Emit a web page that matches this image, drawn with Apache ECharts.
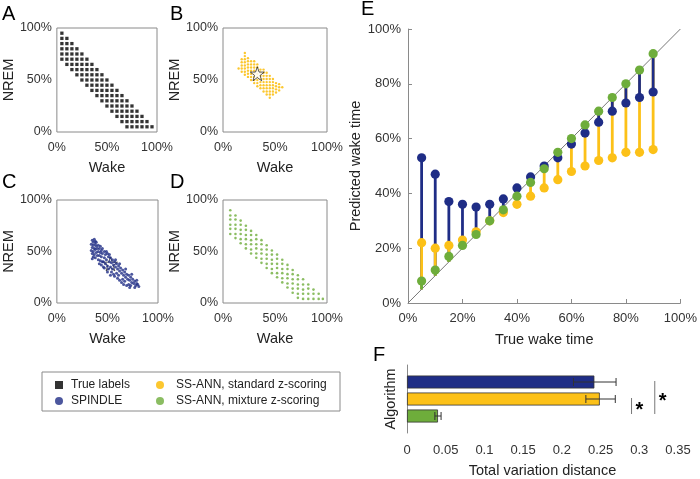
<!DOCTYPE html>
<html>
<head>
<meta charset="utf-8">
<script src="https://cdn.jsdelivr.net/npm/echarts@6.0.0/dist/echarts.min.js"></script>
<style>
  html, body { margin: 0; padding: 0; background: #fff; }
  #chart { width: 700px; height: 479px; }
</style>
</head>
<body>
<div id="chart"></div>
<script>
// panel A: true label compositions, one entry per Wake column: [wake, NREM values]
const trueLabelCols = [
  [5, [70, 75, 80, 85, 90, 95]],
  [10, [65, 70, 75, 80, 85, 90]],
  [15, [60, 65, 70, 75, 80, 85]],
  [20, [55, 60, 65, 70, 75, 80]],
  [25, [50, 55, 60, 65, 70, 75]],
  [30, [45, 50, 55, 60, 65, 70]],
  [35, [40, 45, 50, 55, 60, 65]],
  [40, [35, 40, 45, 50, 55, 60]],
  [45, [30, 35, 40, 45, 50, 55]],
  [50, [25, 30, 35, 40, 45, 50]],
  [55, [20, 25, 30, 35, 40, 45]],
  [60, [15, 20, 25, 30, 35, 40]],
  [65, [10, 15, 20, 25, 30, 35]],
  [70, [5, 10, 15, 20, 25, 30]],
  [75, [5, 10, 15, 20, 25]],
  [80, [5, 10, 15, 20]],
  [85, [5, 10, 15]],
  [90, [5, 10]],
  [95, [5]]
];

// panel B: SS-ANN standard z-scoring predictions
const standardCols = [
  [15, [61]],
  [18, [58, 61, 64, 67, 70]],
  [21, [55, 58, 61, 64, 67, 70, 73, 76]],
  [24, [53, 56, 59, 62, 65, 68, 71]],
  [27, [50, 53, 56, 59, 62, 65, 68]],
  [30, [47, 50, 53, 56, 59, 62, 65, 68]],
  [33, [44, 47, 50, 53, 56, 59, 62, 65]],
  [36, [42, 45, 48, 51, 54, 57, 60]],
  [39, [39, 42, 45, 48, 51, 54, 57, 60]],
  [42, [36, 39, 42, 45, 48, 51, 54, 57]],
  [45, [33, 36, 39, 42, 45, 48, 51, 54]],
  [48, [36, 39, 42, 45, 48, 51]],
  [51, [38, 41, 44, 47]],
  [54, [40, 43, 46]],
  [57, [43]]
];
const standardStar = [33, 56];

// panel C: SPINDLE predictions
const spindlePts = [
  [35, 61], [37, 62], [36, 59], [38, 60], [34, 57], [36, 56], [38, 57], [39, 59], [35, 54], [37, 53],
  [39, 55], [34, 51], [36, 50], [38, 52], [40, 53], [35, 48], [37, 47], [39, 49], [36, 45], [38, 44],
  [40, 46], [35, 43], [41, 56], [42, 53], [43, 55], [41, 50], [43, 49], [44, 51], [42, 46], [44, 45],
  [45, 48], [41, 42], [43, 41], [45, 40], [42, 38], [44, 37], [47, 50], [48, 47], [50, 48], [47, 44],
  [49, 42], [51, 45], [46, 40], [48, 38], [50, 36], [52, 40], [47, 34], [51, 33], [53, 44], [55, 42],
  [54, 39], [56, 37], [53, 35], [57, 40], [55, 33], [58, 35], [54, 30], [56, 28], [53, 27], [59, 38],
  [61, 36], [60, 33], [62, 31], [59, 29], [63, 34], [61, 27], [64, 29], [60, 24], [62, 22], [65, 32],
  [67, 30], [66, 27], [68, 25], [65, 23], [69, 28], [67, 21], [70, 23], [66, 18], [71, 27], [73, 25],
  [72, 22], [74, 20], [71, 18], [75, 23], [73, 17], [76, 19], [72, 15], [77, 21], [79, 19], [78, 17],
  [80, 18], [77, 15], [81, 16], [45, 53], [49, 50], [46, 35], [52, 47], [50, 30], [58, 42], [57, 26],
  [62, 38], [64, 20], [68, 33], [69, 17], [74, 28], [79, 22]
];
const spindleStar = [53, 38];

// panel D: SS-ANN mixture z-scoring predictions
const mixtureCols = [
  [7, [67, 72, 76, 81, 85, 90]],
  [12, [63, 67, 72, 76, 81, 85]],
  [17, [58, 62, 67, 71, 76, 80]],
  [22, [53, 57, 62, 66, 71, 75]],
  [27, [48, 52, 57, 61, 66, 70]],
  [32, [44, 48, 53, 57, 62, 66]],
  [37, [39, 43, 48, 52, 57, 61]],
  [42, [34, 38, 43, 47, 52, 56]],
  [47, [29, 33, 38, 42, 47, 51]],
  [52, [25, 29, 34, 38, 43, 47]],
  [57, [20, 24, 29, 33, 38, 42]],
  [62, [15, 19, 24, 28, 33, 37]],
  [67, [10, 14, 19, 23, 28, 32]],
  [72, [5, 9, 14, 18, 23, 27]],
  [77, [4, 9, 13, 18, 23]],
  [82, [4, 9, 14, 18]],
  [87, [4, 9, 13]],
  [92, [4, 9]],
  [96, [4]]
];

// panel E: predicted vs true wake time (%)
const wakeTrue = [5, 10, 15, 20, 25, 30, 35, 40, 45, 50, 55, 60, 65, 70, 75, 80, 85, 90];
const spindleWake = [53, 47, 37, 36, 35, 36, 38, 42, 46, 50, 53, 58, 62, 66, 70, 73, 75, 77];
const standardWake = [22, 20, 21, 23, 26, 30, 33, 36, 39, 42, 45, 48, 50, 52, 53, 55, 55, 56];
const mixtureWake = [8, 12, 17, 21, 25, 30, 34, 39, 44, 49, 55, 60, 65, 70, 75, 80, 85, 91];

// panel F: total variation distance
const algorithms = ['SPINDLE', 'SS-ANN, standard z-scoring', 'SS-ANN, mixture z-scoring'];
const tvdMean = [0.242, 0.249, 0.040];
const tvdLow = [0.215, 0.231, 0.036];
const tvdHigh = [0.270, 0.269, 0.044];
// [x position, from algorithm index, to algorithm index]
const sigBrackets = [[0.29, 1, 2], [0.32, 0, 2]];

const colors = { blue: '#1f2d86', yellow: '#fcc118', green: '#6ead3b', black: '#000' };
const font = 'Liberation Sans, Arial, sans-serif';
const axisGray = '#8a8a8a';
const labelColor = '#333';
const starPath = 'path://M12,0L14.9,8.3L23.4,8.3L16.5,13.5L19.1,21.8L12,16.8L4.9,21.8L7.5,13.5L0.6,8.3L9.1,8.3Z';

const toPts = cols => cols.flatMap(([x, ys]) => ys.map(y => [x, y]));

const chart = echarts.init(document.getElementById('chart'), null, { renderer: 'canvas' });

const smallGrids = [
  { left: 53, top: 28, width: 104, height: 104 },
  { left: 223, top: 28, width: 104, height: 104 },
  { left: 54, top: 200, width: 104, height: 103 },
  { left: 223, top: 200, width: 104, height: 103 }
];

function smallX(i) {
  return {
    gridIndex: i, type: 'value', min: 0, max: 100, interval: 50,
    name: 'Wake', nameLocation: 'middle', nameGap: 28,
    nameTextStyle: { fontSize: 14.5, color: '#222', fontFamily: font },
    axisLine: { show: false }, axisTick: { show: false }, splitLine: { show: false },
    axisLabel: { formatter: '{value}%', fontSize: 12.5, color: labelColor, fontFamily: font, margin: 9 }
  };
}

function smallY(i) {
  return {
    gridIndex: i, type: 'value', min: 0, max: 100, interval: 50,
    name: 'NREM', nameLocation: 'middle', nameGap: 39,
    nameTextStyle: { fontSize: 14.5, color: '#222', fontFamily: font },
    axisLine: { show: false }, axisTick: { show: false }, splitLine: { show: false },
    axisLabel: { formatter: '{value}%', fontSize: 12.5, color: labelColor, fontFamily: font, margin: 5 }
  };
}

function stemItem(params, api) {
  const x = api.value(0);
  const base = api.coord([x, x]);
  const vals = [
    [api.value(1), colors.blue],
    [api.value(2), colors.yellow],
    [api.value(3), colors.green]
  ];
  const stems = vals.slice()
    .sort((a, b) => Math.abs(b[0] - x) - Math.abs(a[0] - x))
    .map(([v, c]) => {
      const p = api.coord([x, v]);
      return { type: 'line', shape: { x1: p[0], y1: p[1], x2: base[0], y2: base[1] }, style: { stroke: c, lineWidth: 2.8 } };
    });
  const dots = vals.map(([v, c]) => {
    const p = api.coord([x, v]);
    return { type: 'circle', shape: { cx: p[0], cy: p[1], r: 4.6 }, style: { fill: c } };
  });
  return { type: 'group', children: stems.concat(dots) };
}

function errorItem(params, api) {
  const c = api.value(0);
  const p1 = api.coord([api.value(1), c]);
  const p2 = api.coord([api.value(2), c]);
  const st = { stroke: '#333', lineWidth: 1 };
  return {
    type: 'group',
    children: [
      { type: 'line', shape: { x1: p1[0], y1: p1[1], x2: p2[0], y2: p2[1] }, style: st },
      { type: 'line', shape: { x1: p1[0], y1: p1[1] - 4, x2: p1[0], y2: p1[1] + 4 }, style: st },
      { type: 'line', shape: { x1: p2[0], y1: p2[1] - 4, x2: p2[0], y2: p2[1] + 4 }, style: st }
    ]
  };
}

function sigItem(params, api) {
  const x = api.value(0);
  const top = api.coord([x, api.value(1)]);
  const bottom = api.coord([x, api.value(2)]);
  const y1 = top[1] - 1, y2 = bottom[1] - 2;
  return {
    type: 'group',
    children: [
      { type: 'line', shape: { x1: top[0], y1: y1, x2: top[0], y2: y2 }, style: { stroke: '#777', lineWidth: 1 } },
      { type: 'text', style: { text: '*', x: top[0] + 4, y: (y1 + y2) / 2 + 4, fill: '#000', font: 'bold 20px ' + font, align: 'left', verticalAlign: 'middle' } }
    ]
  };
}

const letters = [['A', 2, 4], ['B', 170, 4], ['C', 2, 172], ['D', 170, 172], ['E', 361, -1], ['F', 373, 345]];

const legendText = { fontSize: 12, color: '#222', fontFamily: font, padding: [0, 0, 0, 0] };

const option = {
  animation: false,
  backgroundColor: '#fff',
  textStyle: { fontFamily: font },
  grid: smallGrids.map(g => Object.assign({ show: true, borderColor: axisGray, borderWidth: 1, containLabel: false }, g)).concat([
    { left: 408, top: 29, width: 274, height: 274 },
    { left: 407, top: 365, width: 271, height: 72 }
  ]),
  xAxis: [0, 1, 2, 3].map(smallX).concat([
    {
      gridIndex: 4, type: 'value', min: 0, max: 100, interval: 20,
      name: 'True wake time', nameLocation: 'middle', nameGap: 29,
      nameTextStyle: { fontSize: 14.5, color: '#222', fontFamily: font },
      axisLine: { lineStyle: { color: axisGray } },
      axisTick: { inside: true, length: 4, lineStyle: { color: axisGray } },
      splitLine: { show: false },
      axisLabel: { formatter: '{value}%', fontSize: 13, color: labelColor, fontFamily: font, margin: 9 }
    },
    {
      gridIndex: 5, type: 'value', min: 0, max: 0.35, interval: 0.05,
      name: 'Total variation distance', nameLocation: 'middle', nameGap: 30,
      nameTextStyle: { fontSize: 14.5, color: '#222', fontFamily: font },
      axisLine: { lineStyle: { color: axisGray } },
      axisTick: { inside: true, length: 4, lineStyle: { color: axisGray } },
      splitLine: { show: false },
      axisLabel: {
        formatter: v => (v === 0 ? '0' : String(+v.toFixed(2))),
        fontSize: 13, color: labelColor, fontFamily: font, margin: 11
      }
    }
  ]),
  yAxis: [0, 1, 2, 3].map(smallY).concat([
    {
      gridIndex: 4, type: 'value', min: 0, max: 100, interval: 20,
      name: 'Predicted wake time', nameLocation: 'middle', nameGap: 36,
      nameTextStyle: { fontSize: 14.5, color: '#222', fontFamily: font },
      axisLine: { lineStyle: { color: axisGray } },
      axisTick: { inside: true, length: 4, lineStyle: { color: axisGray } },
      splitLine: { show: false },
      axisLabel: { formatter: '{value}%', fontSize: 13, color: labelColor, fontFamily: font, margin: 7 }
    },
    {
      gridIndex: 5, type: 'category', inverse: true, boundaryGap: false,
      data: [''].concat(algorithms, ['']),
      name: 'Algorithm', nameLocation: 'middle', nameGap: 9,
      nameTextStyle: { fontSize: 14.5, color: '#222', fontFamily: font },
      axisLine: { lineStyle: { color: axisGray } },
      axisTick: { show: false }, axisLabel: { show: false }, splitLine: { show: false }
    }
  ]),
  legend: [
    {
      left: 55, top: 379, orient: 'vertical', padding: 0, itemGap: 4,
      itemWidth: 14, itemHeight: 8, selectedMode: false,
      textStyle: legendText,
      data: [{ name: 'True labels', icon: 'path://M0,0H10V10H0Z' }, { name: 'SPINDLE', icon: 'circle' }]
    },
    {
      left: 156, top: 379, orient: 'vertical', padding: 0, itemGap: 4,
      itemWidth: 14, itemHeight: 8, selectedMode: false,
      textStyle: Object.assign({}, legendText, { padding: [0, 0, 0, 4] }),
      data: [{ name: 'SS-ANN, standard z-scoring', icon: 'circle' }, { name: 'SS-ANN, mixture z-scoring', icon: 'circle' }]
    }
  ],
  graphic: [
    { type: 'rect', shape: { x: 42, y: 372, width: 298, height: 39 }, style: { fill: 'none', stroke: axisGray, lineWidth: 1 } }
  ].concat(letters.map(([t, x, y]) => ({
    type: 'text', left: x, top: y, style: { text: t, font: '20px ' + font, fill: '#000' }
  }))),
  series: [
    {
      name: 'True labels', type: 'scatter', xAxisIndex: 0, yAxisIndex: 0,
      symbol: 'rect', symbolSize: 3.3, itemStyle: { color: colors.black },
      data: toPts(trueLabelCols), silent: true
    },
    {
      name: 'SS-ANN, standard z-scoring', type: 'scatter', xAxisIndex: 1, yAxisIndex: 1,
      symbolSize: 2.4, itemStyle: { color: colors.yellow, opacity: 0.9 },
      data: toPts(standardCols), silent: true, z: 2
    },
    {
      type: 'scatter', xAxisIndex: 1, yAxisIndex: 1, symbol: starPath, symbolSize: 14,
      itemStyle: { color: '#fff', borderColor: '#000', borderWidth: 0.8 },
      data: [standardStar], silent: true, z: 3
    },
    {
      type: 'scatter', xAxisIndex: 2, yAxisIndex: 2, symbol: starPath, symbolSize: 14,
      itemStyle: { color: '#fff', borderColor: '#000', borderWidth: 0.8 },
      data: [spindleStar], silent: true, z: 2
    },
    {
      name: 'SPINDLE', type: 'scatter', xAxisIndex: 2, yAxisIndex: 2,
      symbolSize: 3, itemStyle: { color: colors.blue },
      data: spindlePts, silent: true, z: 3
    },
    {
      name: 'SS-ANN, mixture z-scoring', type: 'scatter', xAxisIndex: 3, yAxisIndex: 3,
      symbolSize: 2.6, itemStyle: { color: colors.green },
      data: toPts(mixtureCols), silent: true
    },
    {
      type: 'line', xAxisIndex: 4, yAxisIndex: 4, data: [[0, 0], [100, 100]],
      symbol: 'none', lineStyle: { color: '#777', width: 1 }, silent: true, z: 1
    },
    {
      type: 'custom', xAxisIndex: 4, yAxisIndex: 4, renderItem: stemItem,
      encode: { x: 0, y: [1, 2, 3] }, silent: true, z: 3,
      data: wakeTrue.map((x, i) => [x, spindleWake[i], standardWake[i], mixtureWake[i]])
    },
    {
      type: 'bar', xAxisIndex: 5, yAxisIndex: 5, barWidth: 13, silent: true,
      itemStyle: { borderColor: '#333', borderWidth: 0.8 },
      data: ['-'].concat(tvdMean.map((v, i) => ({
        value: v, itemStyle: { color: [colors.blue, colors.yellow, colors.green][i] }
      })), ['-'])
    },
    {
      type: 'custom', xAxisIndex: 5, yAxisIndex: 5, renderItem: errorItem,
      encode: { x: [1, 2], y: 0 }, silent: true, z: 4,
      data: tvdMean.map((v, i) => [i + 1, tvdLow[i], tvdHigh[i]])
    },
    {
      type: 'custom', xAxisIndex: 5, yAxisIndex: 5, renderItem: sigItem,
      encode: { x: 0, y: [1, 2] }, silent: true, z: 4,
      data: sigBrackets.map(([x, a, b]) => [x, a + 1, b + 1])
    }
  ]
};

chart.setOption(option);
</script>
</body>
</html>
